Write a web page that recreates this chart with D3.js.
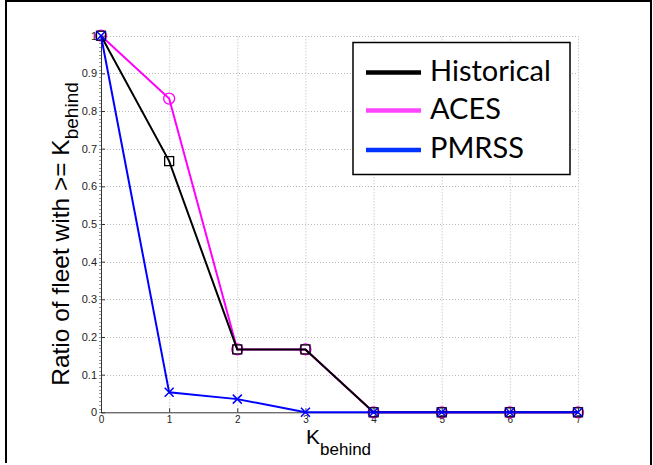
<!DOCTYPE html>
<html>
<head>
<meta charset="utf-8">
<script src="https://cdn.jsdelivr.net/npm/d3@7"></script>
<style>
  html, body { margin: 0; padding: 0; background: #fff; }
  svg { display: block; }
</style>
</head>
<body>
<svg id="chart" width="653" height="465"></svg>
<script>
// ---- data ----
const kValues = [0, 1, 2, 3, 4, 5, 6, 7];
const historical = [1, 0.667, 0.167, 0.167, 0, 0, 0, 0];
const aces = [1, 0.833, 0.167, 0.167, 0, 0, 0, 0];
const pmrss = [1, 0.053, 0.035, 0, 0, 0, 0, 0];
const seriesNames = ["Historical", "ACES", "PMRSS"];
const xTicks = [0, 1, 2, 3, 4, 5, 6, 7];
const yTicks = [0, 0.1, 0.2, 0.3, 0.4, 0.5, 0.6, 0.7, 0.8, 0.9, 1];
const yTickLabels = ["0", "0.1", "0.2", "0.3", "0.4", "0.5", "0.6", "0.7", "0.8", "0.9", "1"];

const svg = d3.select("#chart");
const x = d3.scaleLinear().domain([0, 7]).range([101, 578]);
const y = d3.scaleLinear().domain([0, 1]).range([412.3, 35.7]);

// outer figure border (left, top, right)
svg.append("path")
  .attr("d", "M6,463 L6,1 L651,1 L651,465")
  .attr("fill", "none").attr("stroke", "#000").attr("stroke-width", 2);

// grid
const grid = svg.append("g").attr("stroke", "#b8b8b8").attr("stroke-width", 1)
  .attr("stroke-dasharray", "1,2").attr("fill", "none");
xTicks.filter(d => d > 0).forEach(d => {
  grid.append("line").attr("x1", x(d) + 0.5).attr("x2", x(d) + 0.5)
    .attr("y1", y(0)).attr("y2", y(1));
});
yTicks.filter(d => d > 0).forEach(d => {
  grid.append("line").attr("y1", Math.round(y(d)) + 0.5).attr("y2", Math.round(y(d)) + 0.5)
    .attr("x1", x(0)).attr("x2", x(7));
});

// minor ticks on y axis
const minor = d3.range(0, 101).map(i => i / 100);
svg.append("g").selectAll("line").data(minor).join("line")
  .attr("x1", x(0) - 2).attr("x2", x(0))
  .attr("y1", d => Math.round(y(d)) + 0.5).attr("y2", d => Math.round(y(d)) + 0.5)
  .attr("stroke", "#999").attr("stroke-width", 1);

// axes
const yAxis = d3.axisLeft(y).tickValues(yTicks)
  .tickFormat((d, i) => yTickLabels[i]).tickSizeInner(-4).tickSizeOuter(0).tickPadding(4);
const gy = svg.append("g").attr("transform", `translate(${x(0)},0)`).call(yAxis);
const xAxis = d3.axisBottom(x).tickValues(xTicks).tickFormat(d3.format("d"))
  .tickSizeInner(-4).tickSizeOuter(0).tickPadding(4);
const gx = svg.append("g").attr("transform", `translate(0,${y(0)})`).call(xAxis);
[gx, gy].forEach(g => {
  g.selectAll("text").attr("font-family", "Liberation Sans, Arial, sans-serif")
    .attr("fill", "#222");
  g.selectAll("line").attr("stroke", "#333");
  g.select(".domain").attr("stroke", "#333");
});
gy.selectAll("text").attr("font-size", 11);
gx.selectAll("text").attr("font-size", 10);

// lines & markers
const line = d3.line().x((d, i) => x(kValues[i])).y(d => y(d));
function drawSeries(vals, color, marker) {
  svg.append("path").datum(vals).attr("d", line)
    .attr("fill", "none").attr("stroke", color).attr("stroke-width", 2);
  const g = svg.append("g");
  vals.forEach((v, i) => {
    const cx = x(kValues[i]), cy = y(v);
    if (marker === "circle") {
      g.append("circle").attr("cx", cx).attr("cy", cy).attr("r", 5.5)
        .attr("fill", "none").attr("stroke", color).attr("stroke-width", 1.3);
    } else if (marker === "square") {
      g.append("rect").attr("x", cx - 4.5).attr("y", cy - 4.5).attr("width", 9).attr("height", 9)
        .attr("fill", "none").attr("stroke", color).attr("stroke-width", 1.3);
    } else {
      const s = 4.5;
      g.append("path").attr("d", `M${cx - s},${cy - s}L${cx + s},${cy + s}M${cx - s},${cy + s}L${cx + s},${cy - s}`)
        .attr("stroke", color).attr("stroke-width", 1.5);
    }
  });
}
drawSeries(aces, "#ff00ff", "circle");
drawSeries(historical, "#000000", "square");
drawSeries(pmrss, "#0000ff", "x");

// axis labels
const xl = svg.append("text").attr("x", 306).attr("y", 444)
  .attr("font-family", "Liberation Sans, Arial, sans-serif").attr("font-size", 21).attr("fill", "#000");
xl.append("tspan").text("K");
xl.append("tspan").attr("dy", 11).attr("font-size", 17).text("behind");

const yl = svg.append("text").attr("transform", "translate(69,234) rotate(-90)")
  .attr("text-anchor", "middle")
  .attr("font-family", "Liberation Sans, Arial, sans-serif").attr("font-size", 24.5).attr("fill", "#000");
yl.append("tspan").text("Ratio of fleet with >= K");
yl.append("tspan").attr("dy", 9).attr("font-size", 19).text("behind");

// legend
const lg = svg.append("g");
lg.append("rect").attr("x", 353).attr("y", 42.5).attr("width", 217).attr("height", 132)
  .attr("fill", "#fff").attr("stroke", "#000").attr("stroke-width", 1.5);
const legendColors = ["#000000", "#ff44ff", "#0033ff"];
const legendY = [72.5, 110.5, 150];
seriesNames.forEach((n, i) => {
  lg.append("line").attr("x1", 366).attr("x2", 421).attr("y1", legendY[i]).attr("y2", legendY[i])
    .attr("stroke", legendColors[i]).attr("stroke-width", 4.5);
  lg.append("text").attr("x", 430).attr("y", legendY[i] + 8)
    .attr("font-family", "Lato, Noto Sans, sans-serif").attr("font-size", 29).attr("fill", "#000").text(n);
});
</script>
</body>
</html>
